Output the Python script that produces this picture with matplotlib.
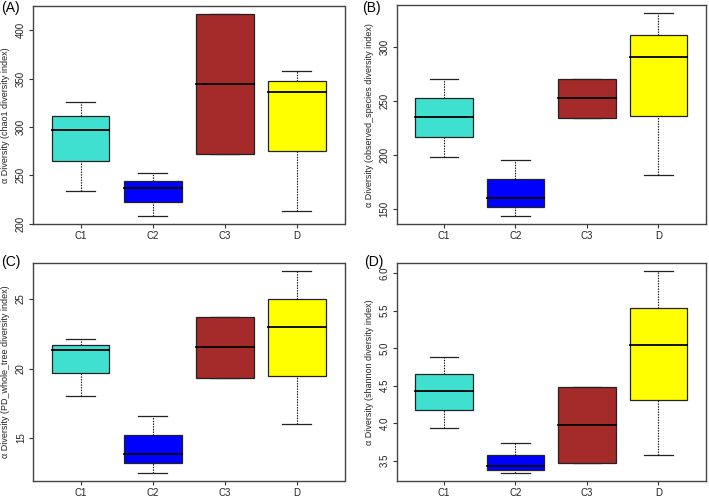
import matplotlib
matplotlib.use("Agg")
import matplotlib.pyplot as plt
from matplotlib.patches import Rectangle

plt.rcParams['font.family'] = ['Liberation Sans', 'DejaVu Sans']

groups = ["C1", "C2", "C3", "D"]
colors = ["#40E0D0", "#0000FF", "#A52A2A", "#FFFF00"]

# five-number summaries: (low, q1, median, q3, high)
chao1 = [(234, 265.3, 296.5, 311, 325.4),
         (207.8, 222.7, 237, 244.6, 252.2),
         (271.8, 271.8, 344.3, 416.8, 416.8),
         (213.4, 274.8, 336, 347.4, 358.4)]
observed = [(198.1, 216.7, 235.2, 252.1, 269.7),
            (143.2, 151.9, 160.2, 177.8, 195),
            (234.3, 234.3, 252.1, 269.7, 269.7),
            (181.1, 236.1, 290.7, 310.7, 330.6)]
pd_tree = [(18.0, 19.65, 21.36, 21.72, 22.15),
           (12.48, 13.16, 13.83, 15.22, 16.56),
           (19.35, 19.35, 21.55, 23.71, 23.71),
           (16.0, 19.46, 22.96, 25.0, 27.04)]
shannon = [(3.936, 4.18, 4.429, 4.655, 4.876),
           (3.337, 3.381, 3.43, 3.574, 3.731),
           (3.465, 3.465, 3.976, 4.486, 4.486),
           (3.576, 4.304, 5.041, 5.538, 6.03)]

panels = [
    ("(A)", chao1, "\u03b1 Diversity (chao1 diversity index)", [200, 250, 300, 350, 400], "%d"),
    ("(B)", observed, "\u03b1 Diversity (observed_species diversity index)", [150, 200, 250, 300], "%d"),
    ("(C)", pd_tree, "\u03b1 Diversity (PD_whole_tree diversity index)", [15, 20, 25], "%d"),
    ("(D)", shannon, "\u03b1 Diversity (shannon diversity index)", [3.5, 4.0, 4.5, 5.0, 5.5, 6.0], "%.1f"),
]

W, H = 709, 498
fig = plt.figure(figsize=(W / 100, H / 100), dpi=100)

# axes boxes in pixels: left, top, right, bottom
boxes = [(33, 6, 344.5, 224.3), (396.7, 5.3, 705.7, 224.3),
         (33, 262.7, 344.5, 481), (396.7, 262.7, 705.7, 481)]
label_pos = [(1, 8), (362, 8), (1, 262), (364, 262)]

for (tag, data, ylab, yt, fmt), (l, t, r, b), (lx, ly) in zip(panels, boxes, label_pos):
    ax = fig.add_axes([l / W, 1 - b / H, (r - l) / W, (b - t) / H])
    for i, (lo, q1, med, q3, hi) in enumerate(data):
        x = i + 1
        ax.plot([x, x], [lo, q1], color="black", lw=0.8, ls=(0, (1.2, 1.2)), zorder=1)
        ax.plot([x, x], [q3, hi], color="black", lw=0.8, ls=(0, (1.2, 1.2)), zorder=1)
        ax.plot([x - 0.2, x + 0.2], [lo, lo], color="#222222", lw=0.9, zorder=1)
        ax.plot([x - 0.2, x + 0.2], [hi, hi], color="#222222", lw=0.9, zorder=1)
        ax.add_patch(Rectangle((x - 0.4, q1), 0.8, q3 - q1, facecolor=colors[i],
                               edgecolor="#222222", lw=0.9, zorder=2))
        ax.plot([x - 0.4, x + 0.4], [med, med], color="black", lw=1.3, zorder=3)
    lows = [d[0] for d in data]
    highs = [d[4] for d in data]
    lo, hi = min(lows), max(highs)
    pad = (hi - lo) * 0.04
    ax.set_ylim(lo - pad, hi + pad)
    ax.set_xlim(0.34, 4.66)
    ax.set_xticks(range(1, 5))
    ax.set_xticklabels(groups)
    ax.set_yticks(yt)
    ax.set_yticklabels([fmt % v for v in yt], rotation=90, va="center")
    ax.tick_params(axis="both", labelsize=7, length=3, width=0.8,
                   color="#333333", labelcolor="#222222", pad=2)
    ax.tick_params(axis="x", pad=2)
    for s in ax.spines.values():
        s.set_color("#444444")
        s.set_linewidth(1.0)
    ax.set_ylabel(ylab, fontsize=6.5, color="#222222", labelpad=4)
    fig.text(lx / W, 1 - ly / H, tag, fontsize=10, va="center", ha="left")

fig.savefig("out.png", dpi=100)
